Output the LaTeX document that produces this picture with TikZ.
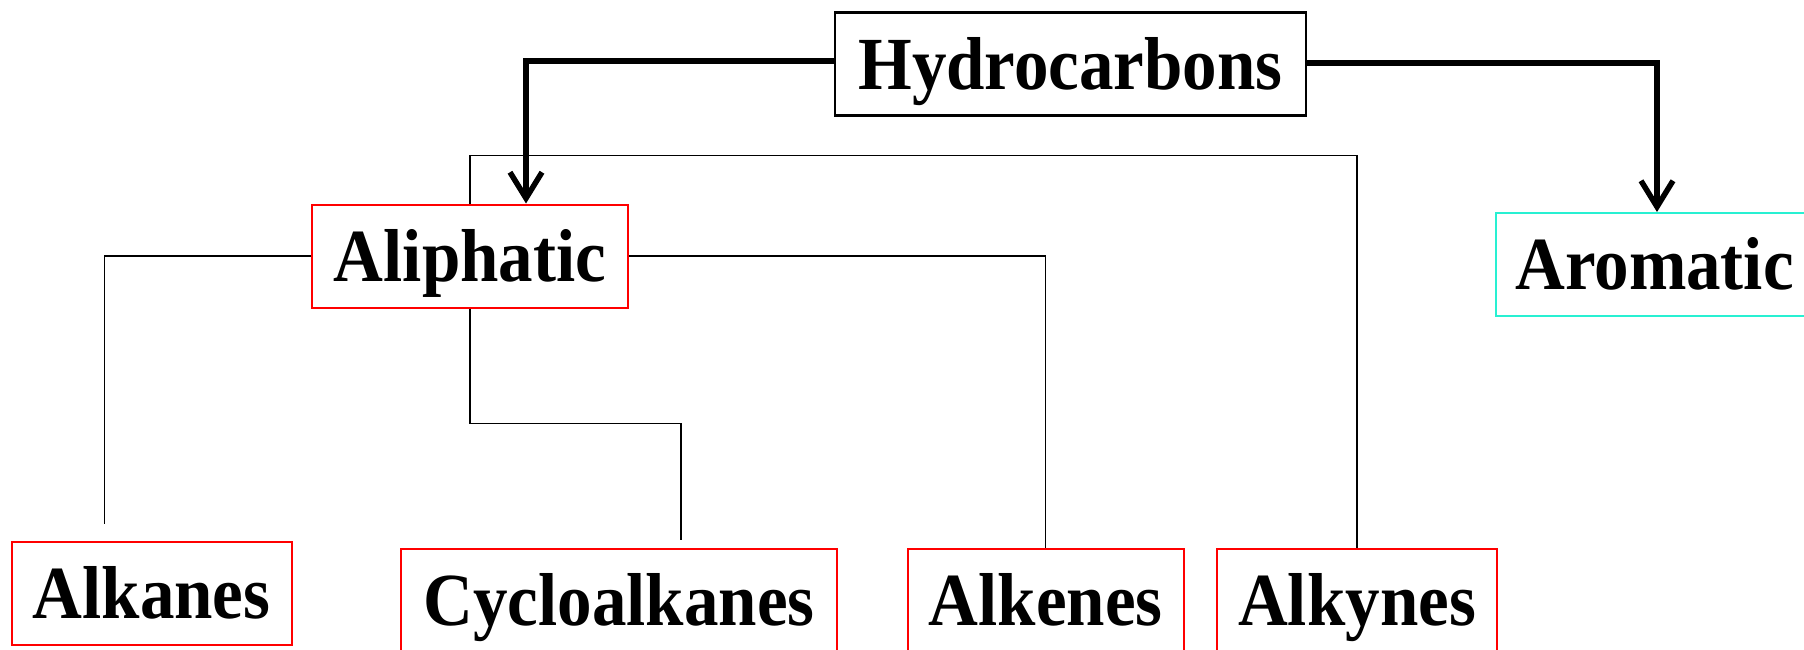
\documentclass[tikz,border=0pt]{standalone}
\usepackage{fontspec}
\setmainfont{Liberation Serif}[FakeStretch=0.92]
\usetikzlibrary{arrows.meta}
\definecolor{aromcol}{RGB}{40,240,210}
\tikzset{
  lbl/.style={font=\bfseries\fontsize{75}{75}\selectfont, inner sep=0pt, text height=50pt, text depth=0pt, minimum height=103pt},
  redbox/.style={lbl, draw=red, line width=2pt},
  blackbox/.style={lbl, draw=black, line width=2.5pt},
  cyanbox/.style={lbl, draw=aromcol, line width=2pt},
  thinline/.style={line width=1.6pt, black},
  bigarrow/.style={line width=5.5pt, -{Straight Barb[length=26pt,width=32pt,line width=5.5pt]}}
}
\begin{document}
\begin{tikzpicture}[x=1pt,y=-1pt]
\clip (0,0) rectangle (1804,649);
\useasboundingbox (0,0) rectangle (1804,649);
\fill[white] (0,0) rectangle (1804,649);
\node[blackbox, minimum width=471pt] (hydro) at (1070.5,64) {Hydrocarbons};
\node[redbox, minimum width=316pt] (aliph) at (470,256) {Aliphatic};
\node[cyanbox, minimum width=317pt] (arom) at (1654.5,264.5) {Aromatic};
\node[redbox, minimum width=280pt] (alkanes) at (151.5,593.5) {Alkanes};
\node[redbox, minimum width=436pt] (cyclo) at (619,600.5) {Cycloalkanes};
\node[redbox, minimum width=276pt] (alkenes) at (1045.6,600.5) {Alkenes};
\node[redbox, minimum width=280pt] (alkynes) at (1357,600.5) {Alkynes};
\coordinate (endA) at (104.5,524);
\coordinate (endC) at (681,540);
% thin connectors
\draw[thinline] (aliph.north) -- ++(0,48pt) -| (alkynes.north);
\draw[thinline] (aliph.west) -| (endA);
\draw[thinline] (aliph.south) -- ++(0,-115pt) -| (endC);
\draw[thinline] (aliph.east) -| (alkenes.north);
% thick arrows
\draw[bigarrow] ([yshift=3pt]hydro.west) -| ([xshift=56pt]aliph.north);
\draw[bigarrow] ([yshift=1pt]hydro.east) -| ([xshift=2.5pt]arom.north);
\end{tikzpicture}
\end{document}
